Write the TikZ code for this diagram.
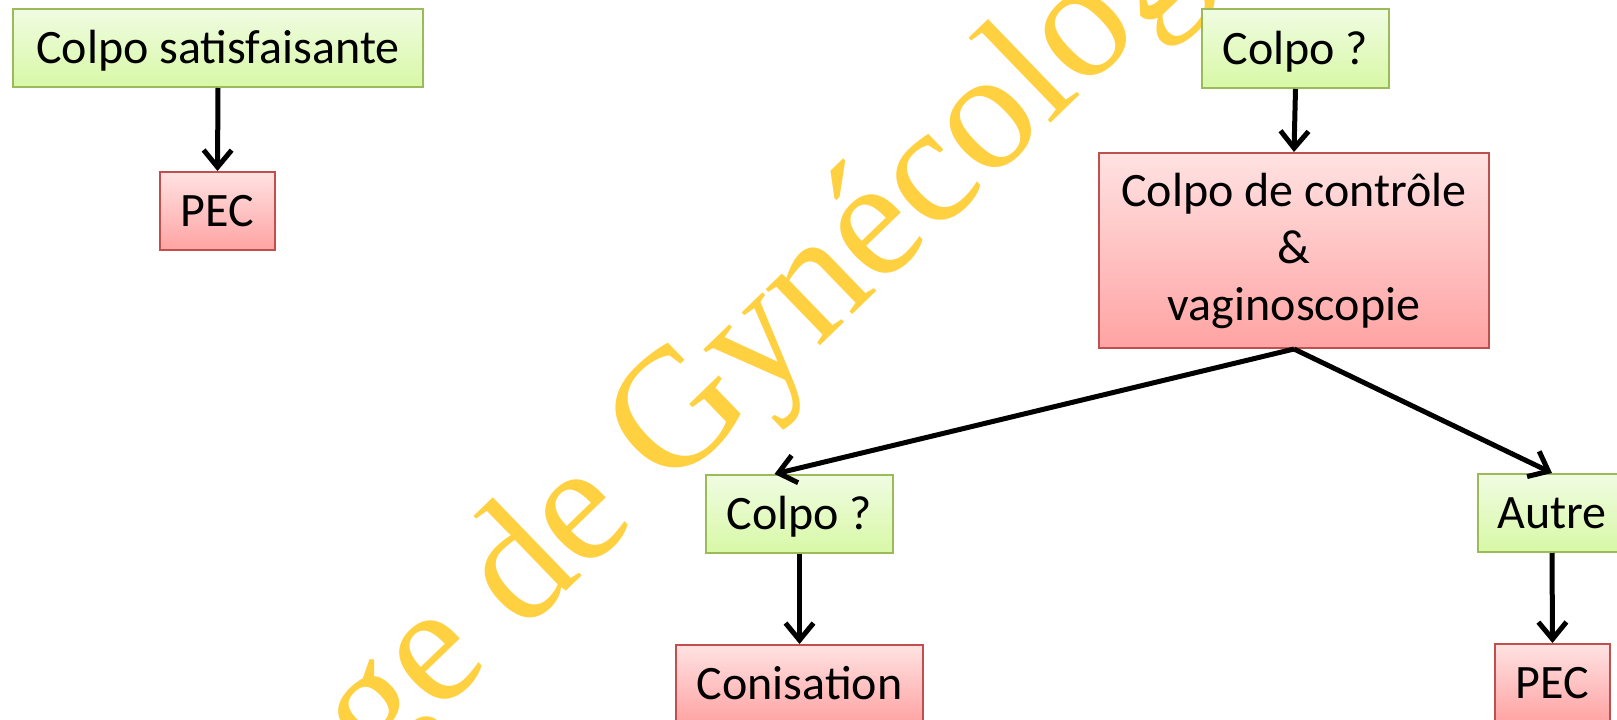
\documentclass[tikz,border=0pt]{standalone}
\usepackage{fontspec}
\setmainfont{Carlito}
\newfontfamily\wmfont{Liberation Serif}
\usetikzlibrary{arrows.meta}
\definecolor{wmyellow}{RGB}{255,208,64}
\definecolor{gborder}{RGB}{155,187,89}
\definecolor{gtop}{RGB}{240,252,226}
\definecolor{gbot}{RGB}{216,248,166}
\definecolor{rborder}{RGB}{192,80,77}
\definecolor{rtop}{RGB}{255,226,226}
\definecolor{rbot}{RGB}{255,163,163}
\tikzset{
  boxbase/.style={rectangle, inner sep=0pt, line width=2pt,
    font=\fontsize{48}{57}\selectfont, align=center},
  oneline/.style={text height=31pt, text depth=0pt},
  greenbox/.style={boxbase, oneline, draw=gborder, top color=gtop, bottom color=gbot},
  redbox/.style={boxbase, draw=rborder, top color=rtop, bottom color=rbot},
  flow/.style={line width=5pt, -{Straight Barb[length=17pt,width=28pt,line width=5pt]}},
  watermark/.style={rotate=44, anchor=base west, inner sep=0pt, text=wmyellow,
    font=\wmfont\fontsize{170}{170}\selectfont}
}
\begin{document}
\begin{tikzpicture}[x=1pt,y=-1pt]
\useasboundingbox (0,0) rectangle (1617,720);
\clip (0,0) rectangle (1617,720);
\fill[white] (0,0) rectangle (1617,720);
% watermark
\node[watermark] (wm) at (668,493) {\llap{ge de }Gynécologie};
% boxes
\node[greenbox, minimum width=410pt, minimum height=78pt] (g1) at (218,48) {Colpo satisfaisante};
\node[redbox, oneline, minimum width=115pt, minimum height=78pt] (r1) at (217.5,211) {PEC};
\node[greenbox, minimum width=187pt, minimum height=79pt] (g2) at (1295.5,48.5) {Colpo ?};
\node[redbox, minimum width=390pt, minimum height=195pt] (r2) at (1294,250.5) {Colpo de contrôle\\\&\\vaginoscopie};
\node[greenbox, minimum width=187pt, minimum height=78pt] (g3) at (799.5,514) {Colpo ?};
\node[greenbox, minimum width=148pt, minimum height=78pt] (g4) at (1552,513) {Autre};
\node[redbox, oneline, minimum width=247pt, minimum height=78pt] (r3) at (799.5,684) {Conisation};
\node[redbox, oneline, minimum width=115pt, minimum height=78pt] (r4) at (1552.5,683) {PEC};
\coordinate (g3in) at ([xshift=-25pt]g3.north);
% connectors
\draw[flow] (g1.south) -- (r1.north);
\draw[flow] (g2.south) -- (r2.north);
\draw[flow] (r2.south) -- (g3in);
\draw[flow] (r2.south) -- (g4.north);
\draw[flow] (g3.south) -- (r3.north);
\draw[flow] (g4.south) -- (r4.north);
\end{tikzpicture}
\end{document}
